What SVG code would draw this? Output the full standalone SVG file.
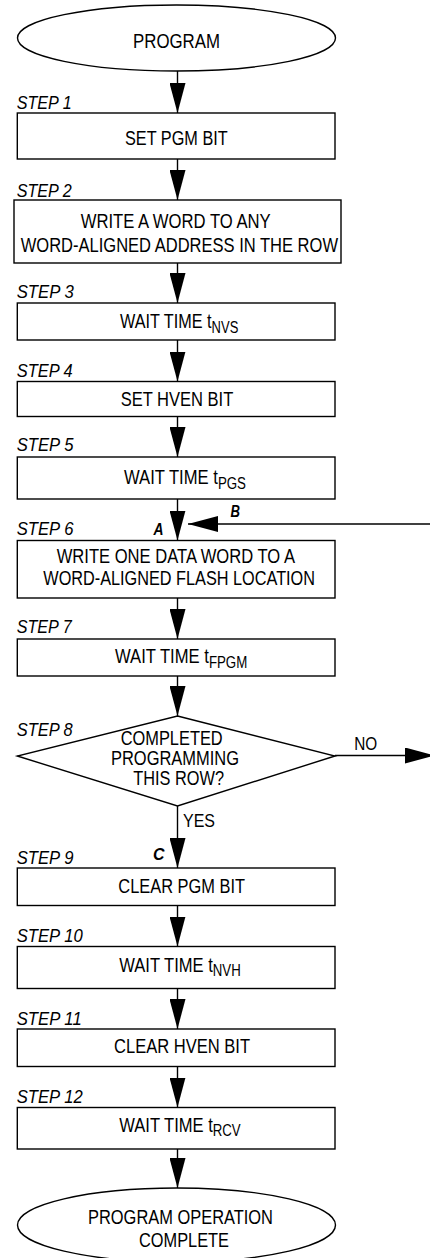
<svg xmlns="http://www.w3.org/2000/svg" width="430" height="1258" viewBox="0 0 430 1258">
  <defs>
    <style>
      .shape { fill: #ffffff; stroke: #000000; stroke-width: 1.4; }
      .wire { fill: none; stroke: #000000; stroke-width: 1.4; marker-end: url(#head); }
      text { font-family: 'Liberation Sans', Arial, Helvetica, sans-serif; fill: #000000; }
      .t { font-size: 20px; }
      .step { font-size: 19px; font-style: italic; }
      .tag { font-size: 17px; font-style: italic; font-weight: bold; }
      .sub { font-size: 16px; }
      .side { font-size: 19px; }
    </style>
    <marker id="head" markerUnits="userSpaceOnUse" markerWidth="30" markerHeight="16" refX="30" refY="8" orient="auto">
      <path d="M0,0 L30,8 L0,16 Z" fill="#000000"/>
    </marker>
  </defs>

  <rect width="430" height="1258" fill="#ffffff"/>

  <!-- flow connectors and their labels -->
  <g id="connectors">
    <line class="wire" x1="177.5" y1="71" x2="177.5" y2="113"/>
    <line class="wire" x1="177.5" y1="159" x2="177.5" y2="200"/>
    <line class="wire" x1="177.5" y1="263" x2="177.5" y2="303"/>
    <line class="wire" x1="177.5" y1="340" x2="177.5" y2="381.5"/>
    <line class="wire" x1="177.5" y1="416.5" x2="177.5" y2="457"/>
    <line class="wire" x1="177.5" y1="499" x2="177.5" y2="540.5"/>
    <line class="wire" x1="430" y1="524" x2="188" y2="524"/>
    <line class="wire" x1="177.5" y1="598" x2="177.5" y2="639"/>
    <line class="wire" x1="177.5" y1="676" x2="177.5" y2="716"/>
    <line class="wire" x1="335" y1="755.5" x2="435" y2="755.5"/>
    <line class="wire" x1="177.5" y1="806" x2="177.5" y2="868"/>
    <line class="wire" x1="177.5" y1="905.5" x2="177.5" y2="946.5"/>
    <line class="wire" x1="177.5" y1="988.5" x2="177.5" y2="1029"/>
    <line class="wire" x1="177.5" y1="1066.5" x2="177.5" y2="1107.5"/>
    <line class="wire" x1="177.5" y1="1149" x2="177.5" y2="1188"/>
    <text class="tag" x="153.5" y="535" textLength="10" lengthAdjust="spacingAndGlyphs">A</text>
    <text class="tag" x="230.5" y="517" textLength="9.5" lengthAdjust="spacingAndGlyphs">B</text>
    <text class="tag" x="153" y="859.5" textLength="11.5" lengthAdjust="spacingAndGlyphs">C</text>
    <text class="side" x="354.3" y="750" textLength="23" lengthAdjust="spacingAndGlyphs">NO</text>
    <text class="side" x="183" y="826.5" textLength="32" lengthAdjust="spacingAndGlyphs">YES</text>
  </g>

  <g id="start">
    <ellipse class="shape" cx="176.5" cy="38" rx="159" ry="33"/>
    <text class="t" x="133" y="47.5" textLength="87" lengthAdjust="spacingAndGlyphs">PROGRAM</text>
  </g>

  <g id="step1">
    <text class="step" x="16.7" y="109" textLength="55" lengthAdjust="spacingAndGlyphs">STEP 1</text>
    <rect class="shape" x="17.3" y="113" width="317.7" height="46"/>
    <text class="t" x="125" y="144.5" textLength="102.7" lengthAdjust="spacingAndGlyphs">SET PGM BIT</text>
  </g>

  <g id="step2">
    <text class="step" x="16.7" y="197" textLength="55" lengthAdjust="spacingAndGlyphs">STEP 2</text>
    <rect class="shape" x="14" y="200" width="327" height="63"/>
    <text class="t" x="80.7" y="228" textLength="190" lengthAdjust="spacingAndGlyphs">WRITE A WORD TO ANY</text>
    <text class="t" x="20.7" y="252" textLength="317.3" lengthAdjust="spacingAndGlyphs">WORD-ALIGNED ADDRESS IN THE ROW</text>
  </g>

  <g id="step3">
    <text class="step" x="16.7" y="297.5" textLength="57" lengthAdjust="spacingAndGlyphs">STEP 3</text>
    <rect class="shape" x="17.3" y="303" width="317.7" height="37"/>
    <text class="t" x="120" y="328.3" textLength="118.3" lengthAdjust="spacingAndGlyphs">WAIT TIME t<tspan class="sub" dy="4.5">NVS</tspan></text>
  </g>

  <g id="step4">
    <text class="step" x="16.7" y="377.3" textLength="56" lengthAdjust="spacingAndGlyphs">STEP 4</text>
    <rect class="shape" x="17.3" y="381.5" width="317.7" height="35"/>
    <text class="t" x="120.7" y="406" textLength="112.6" lengthAdjust="spacingAndGlyphs">SET HVEN BIT</text>
  </g>

  <g id="step5">
    <text class="step" x="16.7" y="451" textLength="56.7" lengthAdjust="spacingAndGlyphs">STEP 5</text>
    <rect class="shape" x="17.3" y="457" width="317.7" height="42"/>
    <text class="t" x="124" y="484" textLength="122" lengthAdjust="spacingAndGlyphs">WAIT TIME t<tspan class="sub" dy="4.5">PGS</tspan></text>
  </g>

  <g id="step6">
    <text class="step" x="16.7" y="535" textLength="56.7" lengthAdjust="spacingAndGlyphs">STEP 6</text>
    <rect class="shape" x="17.3" y="540.5" width="317.7" height="57.5"/>
    <text class="t" x="56.7" y="563.3" textLength="238.3" lengthAdjust="spacingAndGlyphs">WRITE ONE DATA WORD TO A</text>
    <text class="t" x="43.3" y="585" textLength="271.7" lengthAdjust="spacingAndGlyphs">WORD-ALIGNED FLASH LOCATION</text>
  </g>

  <g id="step7">
    <text class="step" x="16.7" y="633" textLength="55" lengthAdjust="spacingAndGlyphs">STEP 7</text>
    <rect class="shape" x="17.3" y="639" width="317.7" height="37"/>
    <text class="t" x="115" y="663.3" textLength="132.3" lengthAdjust="spacingAndGlyphs">WAIT TIME t<tspan class="sub" dy="4.5">FPGM</tspan></text>
  </g>

  <g id="step8">
    <text class="step" x="16.7" y="736" textLength="56" lengthAdjust="spacingAndGlyphs">STEP 8</text>
    <polygon class="shape" points="177.5,716 335,756 177.5,806 17.3,756"/>
    <text class="t" x="120.7" y="745" textLength="102" lengthAdjust="spacingAndGlyphs">COMPLETED</text>
    <text class="t" x="111" y="765" textLength="128" lengthAdjust="spacingAndGlyphs">PROGRAMMING</text>
    <text class="t" x="133.3" y="785" textLength="90.7" lengthAdjust="spacingAndGlyphs">THIS ROW?</text>
  </g>

  <g id="step9">
    <text class="step" x="16.7" y="864.3" textLength="56.7" lengthAdjust="spacingAndGlyphs">STEP 9</text>
    <rect class="shape" x="17.3" y="868" width="317.7" height="37.5"/>
    <text class="t" x="118.3" y="892.7" textLength="126.7" lengthAdjust="spacingAndGlyphs">CLEAR PGM BIT</text>
  </g>

  <g id="step10">
    <text class="step" x="16.7" y="941.7" textLength="66" lengthAdjust="spacingAndGlyphs">STEP 10</text>
    <rect class="shape" x="17.3" y="946.5" width="317.7" height="42"/>
    <text class="t" x="119.3" y="971.7" textLength="121.4" lengthAdjust="spacingAndGlyphs">WAIT TIME t<tspan class="sub" dy="4.5">NVH</tspan></text>
  </g>

  <g id="step11">
    <text class="step" x="16.7" y="1025" textLength="65" lengthAdjust="spacingAndGlyphs">STEP 11</text>
    <rect class="shape" x="17.3" y="1029" width="317.7" height="37.5"/>
    <text class="t" x="114" y="1053.3" textLength="136" lengthAdjust="spacingAndGlyphs">CLEAR HVEN BIT</text>
  </g>

  <g id="step12">
    <text class="step" x="16.7" y="1102.7" textLength="66" lengthAdjust="spacingAndGlyphs">STEP 12</text>
    <rect class="shape" x="17.3" y="1107.5" width="317.7" height="41.5"/>
    <text class="t" x="119.3" y="1131.7" textLength="121.4" lengthAdjust="spacingAndGlyphs">WAIT TIME t<tspan class="sub" dy="4.5">RCV</tspan></text>
  </g>

  <g id="end">
    <ellipse class="shape" cx="176.5" cy="1225" rx="159" ry="37"/>
    <text class="t" x="88" y="1224" textLength="185" lengthAdjust="spacingAndGlyphs">PROGRAM OPERATION</text>
    <text class="t" x="139" y="1246.5" textLength="90" lengthAdjust="spacingAndGlyphs">COMPLETE</text>
  </g>
</svg>
